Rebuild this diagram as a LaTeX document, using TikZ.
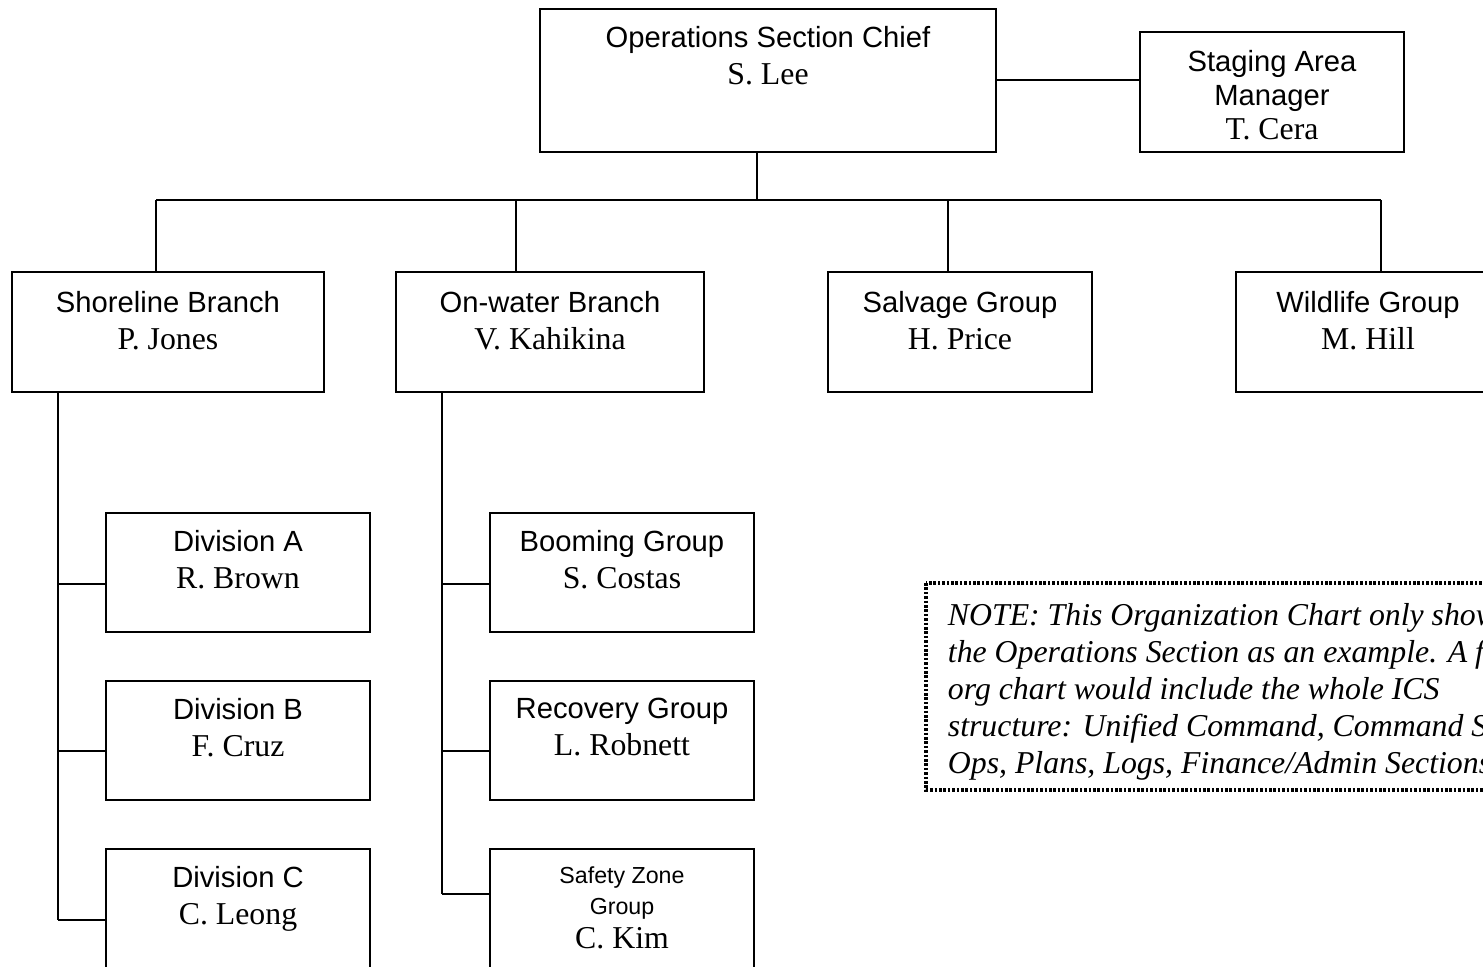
\documentclass[tikz,border=0pt]{standalone}
\usepackage{fontspec}
\setmainfont{Liberation Serif}
\setsansfont{Liberation Sans}
\newcommand{\who}[1]{{\rmfamily\fontsize{15.9}{18.5}\selectfont #1}}
\tikzset{
  box/.style={draw, minimum width=132pt, minimum height=60pt, inner sep=0pt},
  lbl/.style={align=center, anchor=north, inner sep=0pt, font=\sffamily\fontsize{14.6}{18.5}\selectfont},
  small/.style={font=\sffamily\fontsize{11.6}{15.6}\selectfont},
  note/.style={draw, line width=1.8pt, dash pattern=on 1.3pt off 0.9pt},
}
\begin{document}
\begin{tikzpicture}[x=0.5pt, y=-0.5pt, line width=0.9pt]
    \useasboundingbox (0,0) rectangle (1483,966);
    \clip (0,0) rectangle (1483,966);

    \node[box, minimum width=228pt, minimum height=71.5pt] (chief) at (768,80.5) {};
    \node[box] (staging) at (1272,92) {};
    \node[box, minimum width=156pt] (shore) at (168,332) {};
    \node[box, minimum width=154pt] (water) at (550,332) {};
    \node[box] (salvage) at (960,332) {};
    \node[box] (wildlife) at (1368,332) {};
    \node[box, minimum height=59.5pt] (divA) at (238,572.5) {};
    \node[box, minimum height=59.5pt] (divB) at (238,740.5) {};
    \node[box, minimum height=59.5pt] (divC) at (238,908.5) {};
    \node[box, minimum height=59.5pt] (boom) at (622,572.5) {};
    \node[box, minimum height=59.5pt] (recov) at (622,740.5) {};
    \node[box, minimum height=59.5pt] (safety) at (622,908.5) {};

    \node[lbl] (chiefT) at (768,25) {Operations Section Chief\\\who{S. Lee}};
    \node[lbl, font=\sffamily\fontsize{14.6}{17}\selectfont] (stagingT) at (1272,49) {Staging Area\\Manager\\\who{T. Cera}};
    \node[lbl] (shoreT) at (168,290) {Shoreline Branch\\\who{P. Jones}};
    \node[lbl] (waterT) at (550,290) {On-water Branch\\\who{V. Kahikina}};
    \node[lbl] (salvageT) at (960,290) {Salvage Group\\\who{H. Price}};
    \node[lbl] (wildlifeT) at (1368,290) {Wildlife Group\\\who{M. Hill}};
    \node[lbl] (divAT) at (238,529) {Division A\\\who{R. Brown}};
    \node[lbl] (divBT) at (238,697) {Division B\\\who{F. Cruz}};
    \node[lbl] (divCT) at (238,865) {Division C\\\who{C. Leong}};
    \node[lbl] (boomT) at (622,529) {Booming Group\\\who{S. Costas}};
    \node[lbl] (recovT) at (622,697) {Recovery Group\\\who{L. Robnett}};
    \node[lbl, small] (safetyT) at (622,866) {Safety Zone\\Group\\[1pt]\who{C. Kim}};

    \coordinate (stg) at (1140,80);
    \coordinate (trunk) at (757,200);
    \coordinate (busA) at (156,200);
    \coordinate (busB) at (516,200);
    \coordinate (busC) at (948,200);
    \coordinate (busD) at (1381,200);
    \coordinate (sA) at (58,584);
    \coordinate (sB) at (58,751);
    \coordinate (sC) at (58,920);
    \coordinate (wA) at (442,584);
    \coordinate (wB) at (442,751);
    \coordinate (wC) at (442,894);

    \draw (stg -| chief.east) -- (stg -| staging.west);
    \draw (trunk |- chief.south) -- (trunk);
    \draw (busA) -- (busD);
    \draw (busA) -- (busA |- shore.north);
    \draw (busB) -- (busB |- water.north);
    \draw (busC) -- (busC |- salvage.north);
    \draw (busD) -- (busD |- wildlife.north);
    \draw (sA |- shore.south) -- (sC);
    \draw (sA) -- (sA -| divA.west);
    \draw (sB) -- (sB -| divB.west);
    \draw (sC) -- (sC -| divC.west);
    \draw (wA |- water.south) -- (wC);
    \draw (wA) -- (wA -| boom.west);
    \draw (wB) -- (wB -| recov.west);
    \draw (wC) -- (wC -| safety.west);

    \draw[note] (926,583) rectangle (1560,790);
    \node[anchor=north west, align=left, inner sep=0pt, font=\itshape\fontsize{15.9}{18.5}\selectfont] (noteT) at (947,603)
      {NOTE: This Organization Chart only shows\\the Operations Section as an example. A full\\org chart would include the whole ICS\\structure: Unified Command, Command Staff,\\Ops, Plans, Logs, Finance/Admin Sections.};
  \end{tikzpicture}
\end{document}
